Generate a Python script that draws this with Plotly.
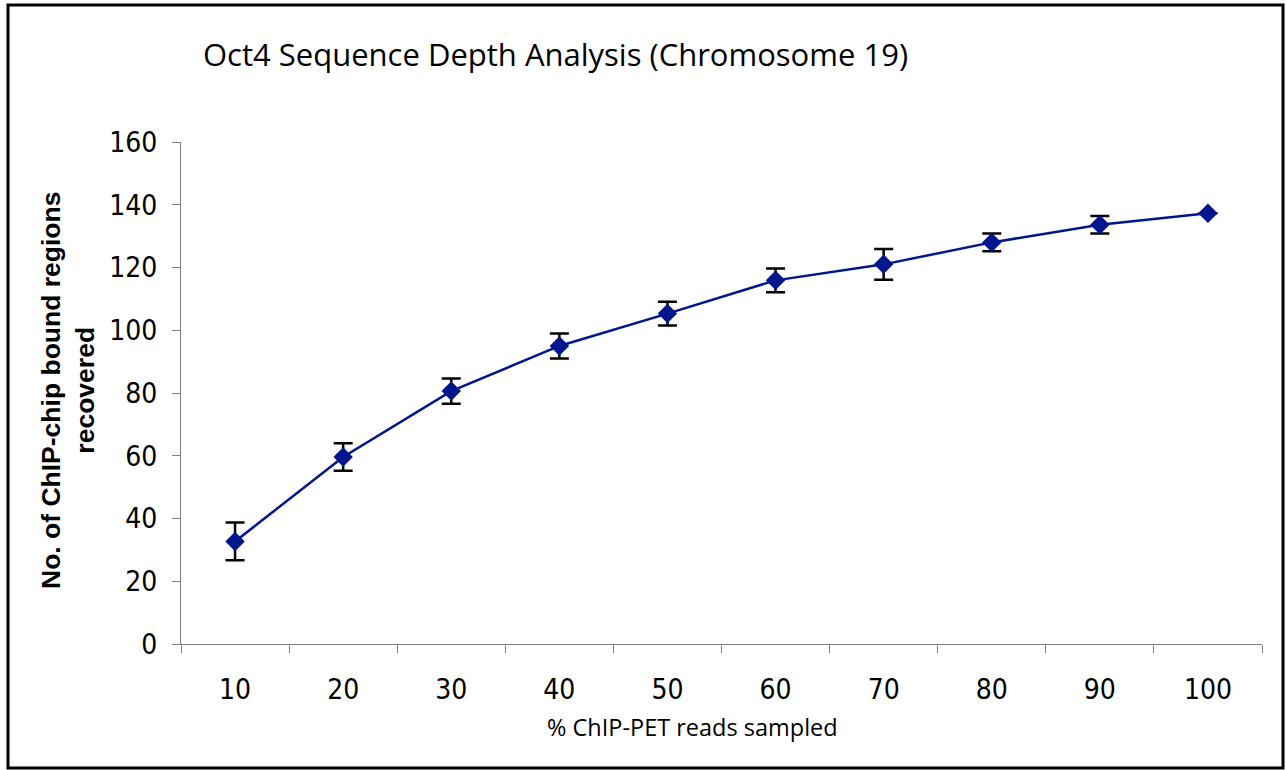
import plotly.graph_objects as go

categories = ["10", "20", "30", "40", "50", "60", "70", "80", "90", "100"]
recovered = [32.7, 59.6, 80.6, 95.0, 105.3, 115.9, 121.0, 128.0, 133.6, 137.3]
error = [6.0, 4.4, 4.0, 4.0, 3.8, 3.8, 4.9, 2.8, 2.8, 0.0]
y_ticks = [0, 20, 40, 60, 80, 100, 120, 140, 160]

W, H = 1286, 770
ML, MR, MT, MB = 181, 24, 142, 126
pw, ph = W - ML - MR, H - MT - MB

fig = go.Figure()
fig.add_trace(go.Scatter(
    x=categories, y=recovered,
    mode="lines+markers",
    line=dict(color="#00168C", width=2.5),
    marker=dict(symbol="diamond", size=15, color="#00168C"),
    error_y=dict(type="data", array=error, visible=True, color="black",
                 thickness=2.5, width=9.5),
    showlegend=False,
))

def px_x(p):
    return (p - ML) / pw

def px_y(p):
    return (H - MB - p) / ph

fig.add_shape(type="rect", xref="paper", yref="paper",
              x0=px_x(8), x1=px_x(1283), y0=px_y(768), y1=px_y(5),
              line=dict(color="black", width=3), layer="above")

fig.add_annotation(text="% ChIP-PET reads sampled", xref="paper", yref="paper",
                   x=px_x(692), y=px_y(727), xanchor="center", yanchor="middle",
                   showarrow=False,
                   font=dict(family="Open Sans", size=23.5, color="black"))
fig.add_annotation(text="<b>No. of ChIP-chip bound regions<br>recovered</b>",
                   xref="paper", yref="paper", textangle=-90,
                   x=px_x(68), y=px_y(391), xanchor="center", yanchor="middle",
                   showarrow=False,
                   font=dict(family="Liberation Sans", size=26.5, color="black"))

fig.update_layout(
    width=W, height=H,
    margin=dict(l=ML, r=MR, t=MT, b=MB),
    paper_bgcolor="white", plot_bgcolor="white",
    title=dict(text="Oct4 Sequence Depth Analysis (Chromosome 19)",
               xref="container", yref="container",
               x=203 / W, y=1 - 55 / H, xanchor="left", yanchor="middle",
               font=dict(family="Open Sans", size=31, color="black")),
    xaxis=dict(type="category", range=[-0.5, 9.5],
               tickson="boundaries", ticks="outside", ticklen=8, tickcolor="#808080",
               showline=True, linecolor="#808080", linewidth=1, showgrid=False,
               tickfont=dict(family="DejaVu Sans Condensed", size=28, color="black"),
               ticklabelstandoff=20),
    yaxis=dict(range=[0, 160], tickvals=y_ticks, ticks="outside", ticklen=8,
               tickcolor="#808080", showline=True, linecolor="#808080", linewidth=1,
               showgrid=False, zeroline=False,
               tickfont=dict(family="DejaVu Sans Condensed", size=28, color="black"),
               ticklabelstandoff=9),
)

fig.write_html("out.html")
